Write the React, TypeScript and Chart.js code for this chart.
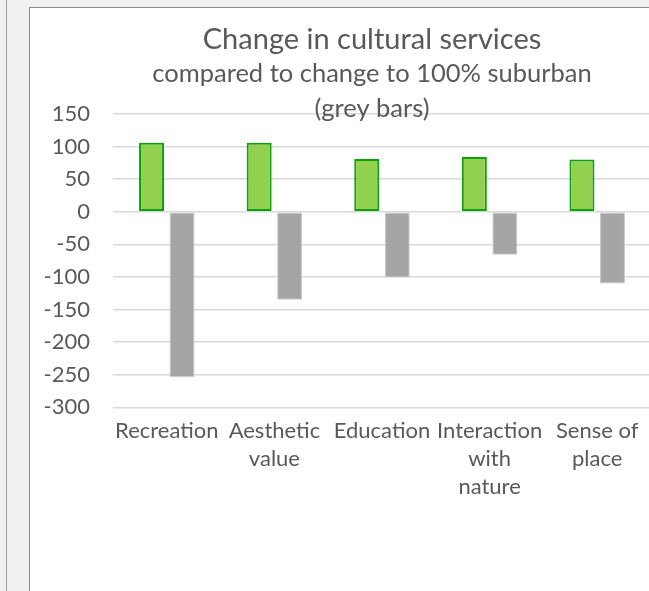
import React, { useEffect, useRef } from "react";
import { Chart, registerables } from "chart.js";

Chart.register(...registerables);

const categories: string[][] = [
  ["Recreation"],
  ["Aesthetic", "value"],
  ["Education"],
  ["Interaction", "with", "nature"],
  ["Sense of", "place"],
];
const greenValues = [106, 106, 81, 84, 80];
const greyValues = [-254, -135, -101, -66, -110];
const yTickValues = [150, 100, 50, 0, -50, -100, -150, -200, -250, -300];
const titleText = "Change in cultural services";
const subtitleLines = ["compared to change to 100% suburban", "(grey bars)"];

const FONT = "Lato, 'Open Sans', sans-serif";
const TEXT = "#595959";

export default function App() {
  const ref = useRef<HTMLCanvasElement | null>(null);

  useEffect(() => {
    if (!ref.current) return;
    const chart = new Chart(ref.current, {
      type: "bar",
      data: {
        labels: categories,
        datasets: [
          {
            label: "Change",
            data: greenValues,
            backgroundColor: "#92d050",
            borderColor: "#0ca00c",
            borderWidth: 2,
            borderSkipped: false,
            categoryPercentage: 0.567,
            barPercentage: 0.82,
          },
          {
            label: "100% suburban",
            data: greyValues,
            backgroundColor: "#a5a5a5",
            borderColor: "#c9c9c9",
            borderWidth: 1,
            borderSkipped: false,
            categoryPercentage: 0.567,
            barPercentage: 0.82,
          },
        ],
      },
      options: {
        animation: false,
        responsive: false,
        maintainAspectRatio: false,
        layout: { padding: 0 },
        plugins: {
          legend: { display: false },
          tooltip: { enabled: false },
          title: {
            display: true,
            text: titleText,
            color: TEXT,
            font: { family: FONT, size: 29, weight: "normal", lineHeight: "34px" },
            padding: { top: 14.5, bottom: 0 },
          },
          subtitle: {
            display: true,
            text: subtitleLines,
            color: TEXT,
            font: { family: FONT, size: 25.5, weight: "normal", lineHeight: "35px" },
            padding: { top: 0.1, bottom: -12.6 },
          },
        },
        scales: {
          x: {
            grid: { display: false, drawTicks: false },
            border: { display: false },
            ticks: {
              color: TEXT,
              font: { family: FONT, size: 22, lineHeight: "28px" },
              padding: 9.5,
              maxRotation: 0,
              autoSkip: false,
            },
            afterFit: (s: any) => {
              s.height = 600 - 399.3;
            },
          },
          y: {
            min: -300,
            max: 150,
            grid: { color: "#d9d9d9", lineWidth: 1.5, drawTicks: false },
            border: { display: false },
            ticks: {
              color: TEXT,
              font: { family: FONT, size: 22 },
              padding: 23,
              callback: (v: any) => String(v),
            },
            afterBuildTicks: (s: any) => {
              s.ticks = yTickValues.map((v) => ({ value: v }));
            },
            afterFit: (s: any) => {
              s.width = 83;
            },
          },
          yR: {
            type: "linear",
            position: "right",
            display: true,
            grid: { display: false, drawTicks: false },
            border: { display: false },
            ticks: { display: false },
            afterFit: (s: any) => {
              s.width = 63;
            },
          },
        },
      },
    } as any);
    return () => chart.destroy();
  }, []);

  return (
    <div
      style={{
        position: "fixed",
        left: 0,
        top: 0,
        width: 649,
        height: 591,
        overflow: "hidden",
        background: "#f1f1f1",
      }}
    >
      <div
        style={{
          position: "absolute",
          left: 6,
          top: 0,
          width: 1,
          height: 591,
          background: "#9e9e9e",
        }}
      />
      <div
        style={{
          position: "absolute",
          left: 29,
          top: 7,
          width: 700,
          height: 620,
          border: "1px solid #8c8c8c",
          background: "#ffffff",
        }}
      >
        <canvas
          ref={ref}
          width={684}
          height={600}
          style={{ position: "absolute", left: 0, top: 0, width: 684, height: 600 }}
        />
      </div>
    </div>
  );
}
